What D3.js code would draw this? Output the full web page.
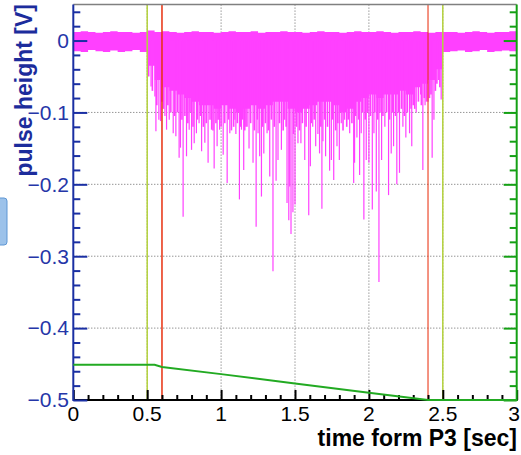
<!DOCTYPE html>
<html><head><meta charset="utf-8">
<script src="https://cdn.jsdelivr.net/npm/d3@7"></script>
<style>
html,body{margin:0;padding:0;background:#fff;}
svg{display:block;}
text{font-family:"Liberation Sans",Arial,Helvetica,sans-serif;}
</style></head><body>
<svg id="c" width="521" height="455"></svg>
<script>
// ---------- data ----------
const xTicksMajor = [0, 0.5, 1, 1.5, 2, 2.5, 3];
const xTickLabels = ["0", "0.5", "1", "1.5", "2", "2.5", "3"];
const xTicksMinor = [0.1,0.2,0.3,0.4,0.6,0.7,0.8,0.9,1.1,1.2,1.3,1.4,1.6,1.7,1.8,1.9,2.1,2.2,2.3,2.4,2.6,2.7,2.8,2.9];
const yTicksMajor = [0, -0.1, -0.2, -0.3, -0.4, -0.5];
const yTickLabels = ["0", "\u22120.1", "\u22120.2", "\u22120.3", "\u22120.4", "\u22120.5"];
const yTicksMinor = [0.04,0.02,-0.02,-0.04,-0.06,-0.08,-0.12,-0.14,-0.16,-0.18,-0.22,-0.24,-0.26,-0.28,-0.32,-0.34,-0.36,-0.38,-0.42,-0.44,-0.46,-0.48];
const gridX = [0.5, 1, 1.5, 2, 2.5];
const gridY = [0, -0.1, -0.2, -0.3, -0.4];

// noise band envelope of the pulse-height trace (sampled every 0.05 s)
const envTime = [0,0.05,0.1,0.15,0.2,0.25,0.3,0.35,0.4,0.45,0.5,0.55,0.6,0.65,0.7,0.75,0.8,0.85,0.9,0.95,
  1,1.05,1.1,1.15,1.2,1.25,1.3,1.35,1.4,1.45,1.5,1.55,1.6,1.65,1.7,1.75,1.8,1.85,1.9,1.95,
  2,2.05,2.1,2.15,2.2,2.25,2.3,2.35,2.4,2.45,2.5,2.55,2.6,2.65,2.7,2.75,2.8,2.85,2.9,2.95,3];
const envHigh = [0.012,0.013,0.012,0.011,0.012,0.013,0.012,0.012,0.011,0.012,0.014,0.012,0.013,0.012,0.011,0.012,0.013,0.012,0.012,0.011,
  0.012,0.013,0.012,0.012,0.013,0.011,0.012,0.012,0.013,0.012,0.012,0.011,0.012,0.013,0.012,0.012,0.011,0.012,0.013,0.012,
  0.012,0.013,0.012,0.011,0.012,0.012,0.013,0.012,0.011,0.012,0.012,0.012,0.011,0.012,0.013,0.012,0.011,0.012,0.012,0.013,0.012];
const envLow = [-0.015,-0.016,-0.013,-0.015,-0.016,-0.014,-0.016,-0.015,-0.013,-0.016,-0.035,-0.055,-0.065,-0.07,-0.075,-0.08,-0.085,-0.09,-0.09,-0.095,
  -0.09,-0.095,-0.1,-0.095,-0.09,-0.095,-0.09,-0.085,-0.085,-0.095,-0.1,-0.095,-0.09,-0.085,-0.085,-0.09,-0.1,-0.095,-0.085,-0.08,
  -0.075,-0.08,-0.075,-0.075,-0.07,-0.075,-0.065,-0.06,-0.055,-0.04,-0.016,-0.015,-0.014,-0.016,-0.015,-0.013,-0.016,-0.015,-0.014,-0.015,-0.015];

// deep individual pulses below the band
const spikeTime = [0.526,0.552,0.559,0.579,0.590,0.620,0.631,0.649,0.676,0.694,0.716,0.725,0.743,0.766,0.784,0.800,0.818,0.833,0.851,0.868,
  0.890,0.912,0.935,0.953,0.973,0.990,1.014,1.041,1.059,1.093,1.100,1.124,
  1.138,1.153,1.167,1.189,1.216,1.237,1.250,1.261,1.273,1.289,1.311,1.329,1.351,1.372,1.385,1.408,1.430,1.446,1.458,1.464,1.473,1.486,1.500,
  1.520,1.540,1.566,1.593,1.604,1.620,1.640,1.655,1.666,1.682,1.689,1.707,1.734,1.746,1.762,1.784,1.800,
  1.813,1.836,1.870,1.897,1.903,1.919,1.937,1.948,1.966,1.982,2.000,2.023,2.034,2.050,2.068,2.086,2.108,2.133,2.151,2.167,2.189,2.207,
  2.230,2.250,2.275,2.290,2.320,2.350,2.365,2.380,2.400,2.428,2.440,2.470,2.489];
const spikeDepth = [-0.064,-0.078,-0.126,-0.110,-0.112,-0.105,-0.124,-0.110,-0.129,-0.133,-0.163,-0.149,-0.245,-0.161,-0.124,-0.152,-0.143,-0.129,-0.115,-0.154,
  -0.142,-0.170,-0.124,-0.178,-0.147,-0.124,-0.159,-0.198,-0.129,-0.110,-0.130,-0.221,
  -0.124,-0.180,-0.120,-0.150,-0.170,-0.259,-0.129,-0.161,-0.217,-0.157,-0.129,-0.189,-0.321,-0.195,-0.166,-0.152,-0.110,-0.226,-0.250,-0.203,-0.269,-0.239,-0.228,
  -0.143,-0.143,-0.166,-0.243,-0.175,-0.120,-0.147,-0.130,-0.157,-0.234,-0.140,-0.161,-0.181,-0.166,-0.194,-0.147,-0.166,
  -0.115,-0.110,-0.129,-0.198,-0.170,-0.135,-0.187,-0.129,-0.249,-0.166,-0.170,-0.235,-0.129,-0.210,-0.336,-0.166,-0.120,-0.215,-0.157,-0.147,-0.200,-0.184,
  -0.120,-0.135,-0.129,-0.147,-0.100,-0.075,-0.180,-0.090,-0.085,-0.163,-0.110,-0.055,-0.082];

// shallower pulses forming the ragged lower edge of the band
const edgeTime = [0.51,0.535,0.565,0.60,0.61,0.64,0.66,0.685,0.705,0.735,0.755,0.775,0.79,0.81,0.84,0.86,0.88,0.90,0.925,0.945,0.965,0.98,
  1.00,1.025,1.05,1.07,1.085,1.11,1.13,1.145,1.16,1.175,1.20,1.225,1.245,1.28,1.30,1.32,1.34,1.36,1.395,1.42,1.44,1.49,
  1.51,1.53,1.55,1.575,1.61,1.63,1.675,1.70,1.72,1.755,1.775,1.79,1.825,1.85,1.86,1.885,1.91,1.93,1.955,1.975,1.99,
  2.01,2.04,2.06,2.075,2.095,2.12,2.14,2.16,2.18,2.20,2.22,2.24,2.26,2.285,2.30,2.31,2.335,2.355,2.375,2.39,2.41,2.42,2.45,2.46,2.48];
const edgeDepth = [-0.05,-0.07,-0.09,-0.085,-0.095,-0.09,-0.10,-0.105,-0.10,-0.11,-0.105,-0.115,-0.10,-0.12,-0.11,-0.105,-0.12,-0.115,-0.11,-0.125,-0.115,-0.11,
  -0.12,-0.115,-0.11,-0.125,-0.12,-0.115,-0.12,-0.11,-0.125,-0.12,-0.115,-0.125,-0.11,-0.12,-0.115,-0.125,-0.11,-0.12,-0.115,-0.125,-0.12,-0.13,
  -0.12,-0.125,-0.115,-0.12,-0.115,-0.11,-0.12,-0.11,-0.12,-0.11,-0.125,-0.115,-0.125,-0.12,-0.11,-0.115,-0.105,-0.11,-0.10,-0.11,-0.10,
  -0.105,-0.10,-0.11,-0.10,-0.105,-0.10,-0.11,-0.10,-0.105,-0.10,-0.095,-0.105,-0.10,-0.095,-0.09,-0.095,-0.085,-0.09,-0.08,-0.085,-0.08,-0.075,-0.07,-0.06,-0.065];

// marker lines
const limeTimes = [0.5, 2.5];
const redTimes = [0.6, 2.4];

// green reference curve
const greenTime = [0, 0.55, 0.6, 1.0, 1.5, 2.0, 2.4, 3];
const greenValue = [-0.451, -0.451, -0.454, -0.464, -0.477, -0.490, -0.500, -0.500];

// ---------- chart ----------
const svg = d3.select("#c");
const L = 73.3, R = 516.7, T = 4.6, B = 400;
const x = d3.scaleLinear().domain([0, 3]).range([L, R]);
const y = d3.scaleLinear().domain([-0.5, 0.05]).range([B, T]);
const blue = "#1a2fa3", green = "#14a014", magenta = "#ff40ff";

// artifact box on the left edge
svg.append("rect").attr("x", -6).attr("y", 198).attr("width", 13).attr("height", 47).attr("rx", 3)
  .attr("fill", "#9cc2ea").attr("stroke", "#5f97d4").attr("stroke-width", 1);

// grid
const grid = svg.append("g").attr("stroke", "#666").attr("stroke-width", 1).attr("stroke-dasharray", "1,2");
grid.selectAll("line.gx").data(gridX).join("line").attr("class", "gx")
  .attr("x1", d => x(d)).attr("x2", d => x(d)).attr("y1", T).attr("y2", B);
grid.selectAll("line.gy").data(gridY).join("line").attr("class", "gy")
  .attr("x1", L).attr("x2", R).attr("y1", d => y(d)).attr("y2", d => y(d));

// band
const env = envTime.map((t, i) => ({t, hi: envHigh[i], lo: envLow[i]}));
svg.append("path").datum(env)
  .attr("d", d3.area().x(d => x(d.t)).y0(d => y(d.lo)).y1(d => y(d.hi)).curve(d3.curveStepAfter))
  .attr("fill", magenta);

// edge pulses
svg.append("g").selectAll("line").data(edgeTime.map((t, i) => ({t, v: edgeDepth[i]}))).join("line")
  .attr("x1", d => x(d.t)).attr("x2", d => x(d.t))
  .attr("y1", y(0)).attr("y2", d => y(d.v))
  .attr("stroke", magenta).attr("stroke-width", 1.6);

// deep spikes
svg.append("g").selectAll("line").data(spikeTime.map((t, i) => ({t, v: spikeDepth[i]}))).join("line")
  .attr("x1", d => x(d.t)).attr("x2", d => x(d.t))
  .attr("y1", y(0)).attr("y2", d => y(d.v))
  .attr("stroke", magenta).attr("stroke-width", 1.2);

// marker lines
svg.append("g").selectAll("line").data(limeTimes).join("line")
  .attr("x1", d => x(d)).attr("x2", d => x(d)).attr("y1", T).attr("y2", B)
  .attr("stroke", "#b4d23c").attr("stroke-width", 1.5);
svg.append("g").selectAll("line").data(redTimes).join("line")
  .attr("x1", d => x(d)).attr("x2", d => x(d)).attr("y1", T).attr("y2", B)
  .attr("stroke", "#e8300f").attr("stroke-width", 1.5).attr("stroke-opacity", (d, i) => i ? 0.7 : 1);

// top frame
svg.append("line").attr("x1", L).attr("x2", R).attr("y1", T).attr("y2", T)
  .attr("stroke", "#808080").attr("stroke-width", 1.5);

// axes helpers
function styleAxis(g, color) {
  g.select(".domain").remove();
  g.selectAll(".tick line").attr("stroke", color).attr("stroke-width", 2);
  g.selectAll(".tick text").remove();
}
// bottom axis (ticks pointing up)
svg.append("g").attr("transform", `translate(0,${B})`)
  .call(d3.axisTop(x).tickValues(xTicksMajor).tickSize(10)).call(g => styleAxis(g, "#000"));
svg.append("g").attr("transform", `translate(0,${B})`)
  .call(d3.axisTop(x).tickValues(xTicksMinor).tickSize(5)).call(g => styleAxis(g, "#000"));
svg.append("line").attr("x1", L).attr("x2", R + 1).attr("y1", B).attr("y2", B)
  .attr("stroke", "#000").attr("stroke-width", 2);

// left axis (blue, ticks pointing in)
svg.append("g").attr("transform", `translate(${L},0)`)
  .call(d3.axisRight(y).tickValues(yTicksMajor).tickSize(14)).call(g => styleAxis(g, blue));
svg.append("g").attr("transform", `translate(${L},0)`)
  .call(d3.axisRight(y).tickValues(yTicksMinor).tickSize(7)).call(g => styleAxis(g, blue));
svg.append("line").attr("x1", L).attr("x2", L).attr("y1", T).attr("y2", B + 1)
  .attr("stroke", blue).attr("stroke-width", 2);

// right axis (green, ticks pointing in)
svg.append("g").attr("transform", `translate(${R},0)`)
  .call(d3.axisLeft(y).tickValues(yTicksMajor).tickSize(13)).call(g => styleAxis(g, green));
svg.append("g").attr("transform", `translate(${R},0)`)
  .call(d3.axisLeft(y).tickValues(yTicksMinor).tickSize(7)).call(g => styleAxis(g, green));
svg.append("line").attr("x1", R).attr("x2", R).attr("y1", T).attr("y2", B + 1)
  .attr("stroke", green).attr("stroke-width", 2);

// green curve
svg.append("path").datum(greenTime.map((t, i) => ({t, v: greenValue[i]})))
  .attr("d", d3.line().x(d => x(d.t)).y(d => y(d.v)))
  .attr("fill", "none").attr("stroke", "#22aa22").attr("stroke-width", 2);

// tick labels
const xl = svg.append("g").selectAll("text").data(xTicksMajor).join("text")
  .attr("x", d => x(d)).attr("y", 421).attr("text-anchor", "middle")
  .attr("font-size", 21).attr("fill", "#000").text((d, i) => xTickLabels[i]);
// keep the last label inside the picture
xl.each(function() {
  const bb = this.getBBox();
  if (bb.x + bb.width > 520) d3.select(this).attr("x", +d3.select(this).attr("x") - (bb.x + bb.width - 520));
});
svg.append("g").selectAll("text").data(yTicksMajor).join("text")
  .attr("x", 69).attr("y", d => y(d)).attr("dy", "0.35em").attr("text-anchor", "end")
  .attr("font-size", 21).attr("fill", "#2536a8").text((d, i) => yTickLabels[i]);

// axis titles
svg.append("text").attr("x", 517).attr("y", 446).attr("text-anchor", "end")
  .attr("font-size", 23).attr("font-weight", "bold").attr("fill", "#000").text("time form P3 [sec]");
svg.append("text").attr("transform", "translate(32,4) rotate(-90)").attr("text-anchor", "end")
  .attr("font-size", 23).attr("font-weight", "bold").attr("fill", "#1c2c9c").text("pulse height [V]");
</script>
</body></html>
